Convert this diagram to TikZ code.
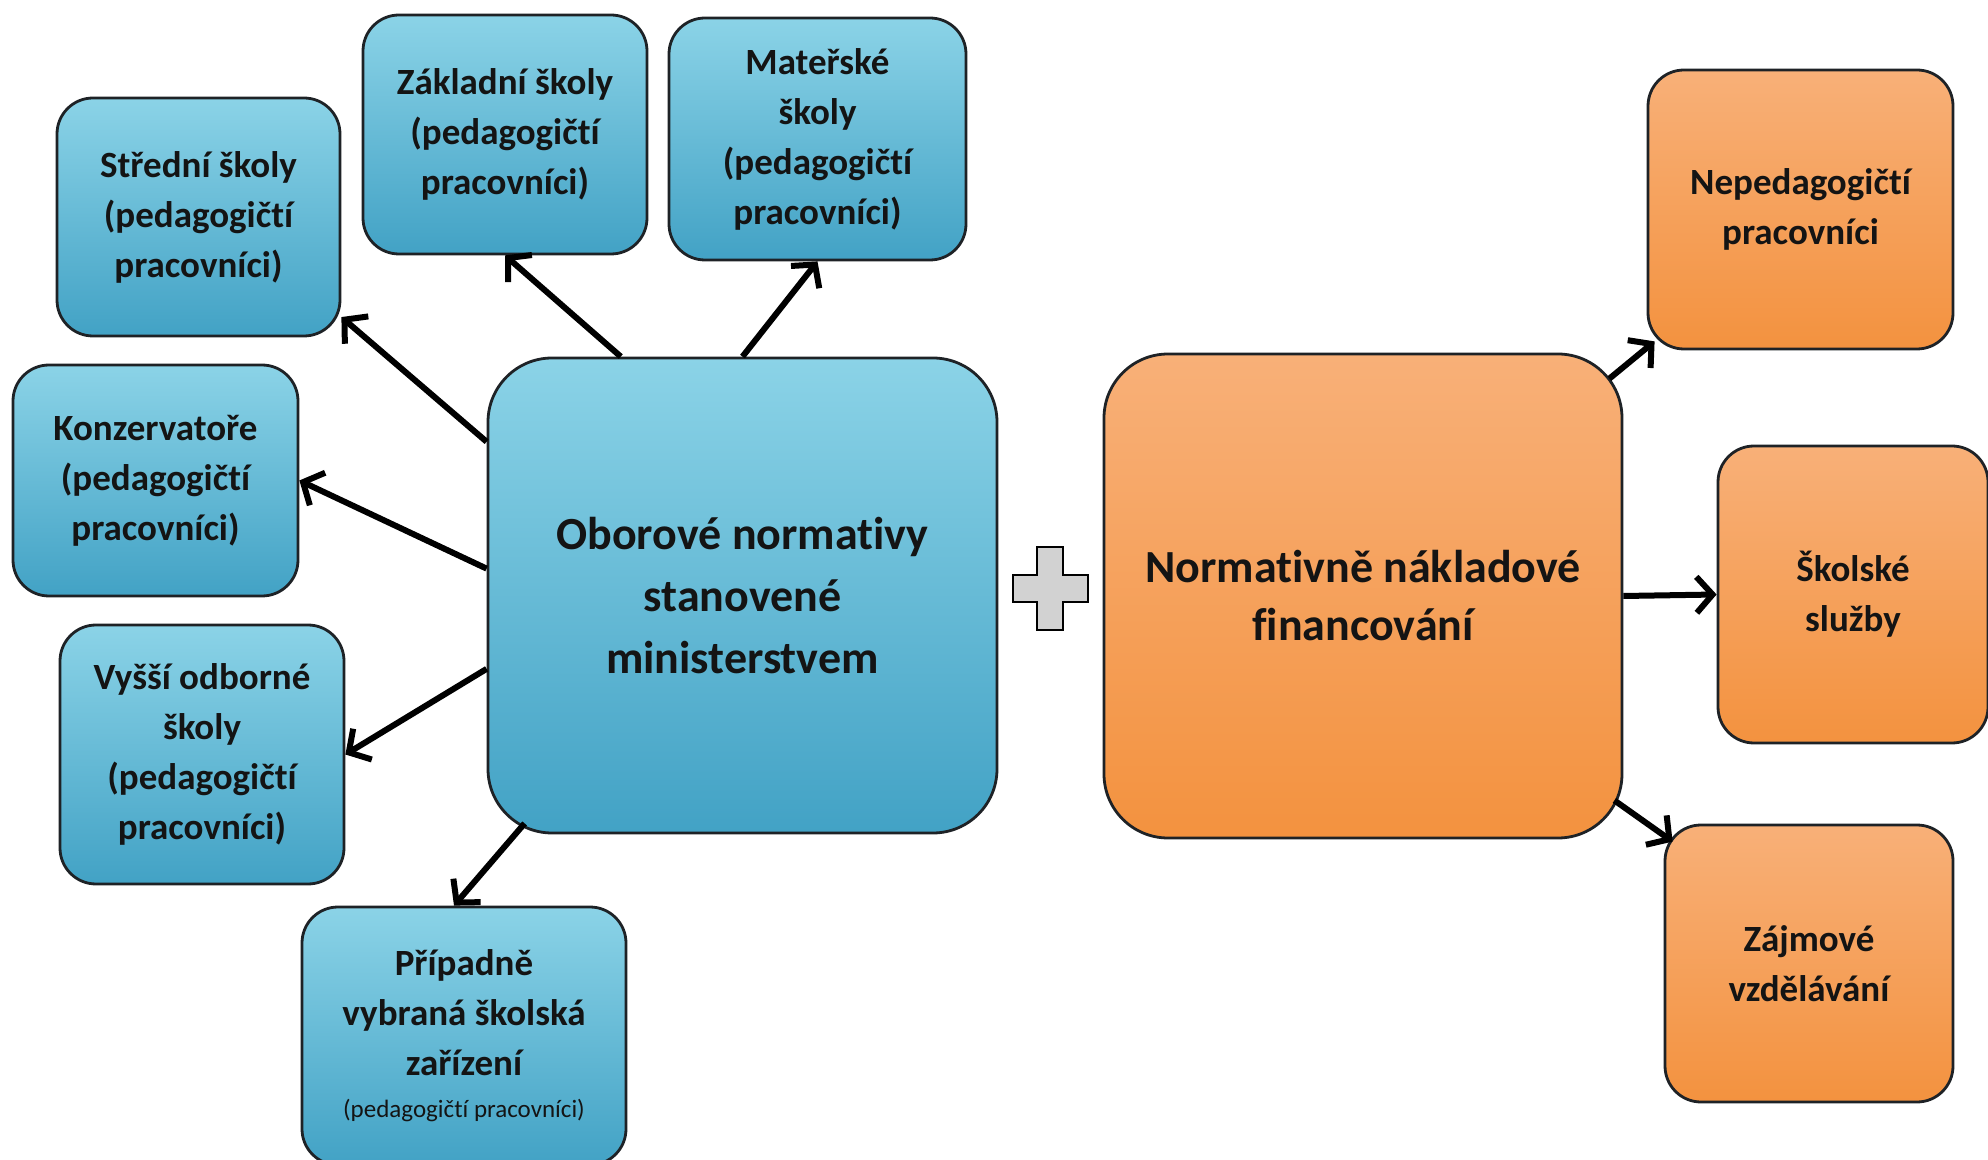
\documentclass[tikz,border=0pt]{standalone}
\usepackage{fontspec}
\setmainfont{Carlito}[RawFeature={-liga;-clig;-dlig}]
\usetikzlibrary{arrows.meta,calc}
\definecolor{blueTop}{HTML}{8BD3E7}
\definecolor{blueBot}{HTML}{42A2C5}
\definecolor{orTop}{HTML}{F8B078}
\definecolor{orBot}{HTML}{F3923F}
\definecolor{boxline}{HTML}{1E2226}
\definecolor{txt}{HTML}{141414}
\begin{document}
\begin{tikzpicture}[x=0.5pt,y=-0.5pt,
  basebox/.style={draw=boxline,line width=1.4pt,align=center,inner sep=0pt,text=txt},
  smallbox/.style={basebox,rounded corners=18pt,font=\bfseries\fontsize{18.5}{25}\selectfont},
  bigbox/.style={basebox,rounded corners=32pt},
  bluefill/.style={top color=blueTop,bottom color=blueBot},
  orfill/.style={top color=orTop,bottom color=orBot},
  arr/.style={draw=black,line width=3pt,-{Straight Barb[length=8pt,width=18pt]}},
  plusst/.style={draw=black,line width=1.3pt,fill=gray!35}
]
\clip (0,0) rectangle (1988,1160);
\fill[white] (0,0) rectangle (1988,1160);

% blue side
\node[smallbox,bluefill,minimum width=141.5pt,minimum height=119pt] (st) at (198.5,217)
  {Střední školy\\(pedagogičtí\\pracovníci)};
\node[smallbox,bluefill,minimum width=142pt,minimum height=119.5pt] (zk) at (505,134.5)
  {Základní školy\\(pedagogičtí\\pracovníci)};
\node[smallbox,bluefill,minimum width=148.5pt,minimum height=121pt] (mt) at (817.5,139)
  {Mateřské\\školy\\(pedagogičtí\\pracovníci)};
\node[smallbox,bluefill,minimum width=142.5pt,minimum height=115.5pt] (kz) at (155.5,480.5)
  {Konzervatoře\\(pedagogičtí\\pracovníci)};
\node[smallbox,bluefill,minimum width=142pt,minimum height=129.5pt] (vy) at (202,754.5)
  {Vyšší odborné\\školy\\(pedagogičtí\\pracovníci)};
\node[smallbox,bluefill,minimum width=162pt,minimum height=129pt] (pr) at (464,1036)
  {Případně\\vybraná školská\\zařízení\\[-4pt]{\mdseries\fontsize{12.5}{16}\selectfont (pedagogičtí pracovníci)}};
\node[bigbox,bluefill,minimum width=254.5pt,minimum height=237.5pt,
  font=\bfseries\fontsize{23}{31}\selectfont] (cb) at (742.5,595.5)
  {Oborové normativy\\stanovené\\ministerstvem};

% plus sign
\draw[plusst] (1037,547) -- (1063,547) -- (1063,575) -- (1088,575) -- (1088,602)
  -- (1063,602) -- (1063,630) -- (1037,630) -- (1037,602) -- (1013,602)
  -- (1013,575) -- (1037,575) -- cycle;

% orange side
\node[bigbox,orfill,minimum width=259pt,minimum height=242pt,
  font=\bfseries\fontsize{23}{29}\selectfont] (ob) at (1363,596)
  {Normativně nákladové\\financování};
\node[smallbox,orfill,minimum width=152.5pt,minimum height=139.5pt] (np) at (1800.5,209.5)
  {Nepedagogičtí\\pracovníci};
\node[smallbox,orfill,minimum width=135pt,minimum height=148.5pt] (sk) at (1853,594.5)
  {Školské\\služby};
\node[smallbox,orfill,minimum width=144pt,minimum height=138.5pt] (zj) at (1809,963.5)
  {Zájmové\\vzdělávání};

% connectors
\draw[arr] (cb.149) -- (st.-35);
\draw[arr] (cb.117) -- (zk.south);
\draw[arr] (cb.north) -- (mt.south);
\draw[arr] (cb.174) -- (kz.east);
\draw[arr] (cb.-164.5) -- (vy.east);
\draw[arr] ($(cb.south west)+(38,-11)$) -- ($(pr.north)+(-10,0)$);
\draw[arr] ($(ob.north east)+(-14,26)$) -- ($(np.south west)+(8,-9)$);
\draw[arr] (ob.east) -- (sk.west);
\draw[arr] ($(ob.south east)+(-9,-39)$) -- ($(zj.north west)+(9,18)$);
\end{tikzpicture}
\end{document}
